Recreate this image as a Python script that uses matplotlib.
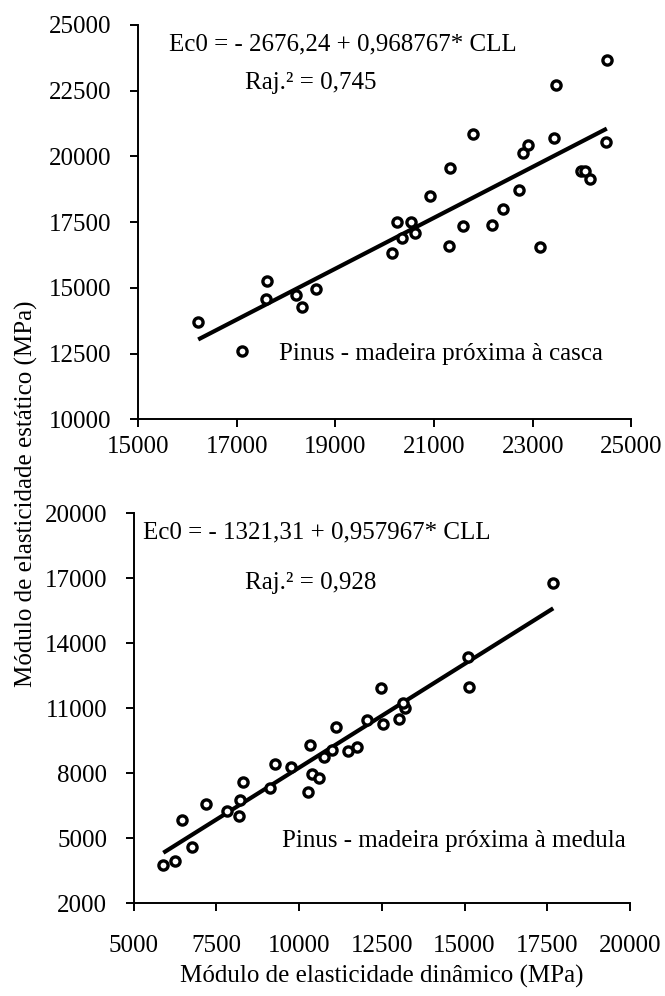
import matplotlib
matplotlib.use("Agg")
import matplotlib.pyplot as plt
import numpy as np

plt.rcParams['font.family'] = ['Liberation Serif', 'DejaVu Serif']

# Top panel: Pinus - madeira próxima à casca
x_casca = [16220, 17100, 17610, 17590, 18200, 18320, 18610, 20140, 20240, 20340,
           20530, 20610, 20920, 21310, 21590, 22170, 22400, 21780, 21320, 22730,
           22810, 22900, 24500, 23480, 23430, 24480, 23970, 24060, 24160, 23150]
y_casca = [13700, 12600, 15250, 14580, 14730, 14280, 14940, 16310, 17500, 16880,
           17500, 17080, 18510, 16590, 17350, 17390, 18000, 20850, 19550, 18720,
           20120, 20430, 23670, 22720, 20690, 20540, 19460, 19460, 19140, 16560]
a_casca, b_casca = -2676.24, 0.968767
eq_casca = "Ec0 = - 2676,24 + 0,968767* CLL"
r2_casca = "Raj.² = 0,745"
lab_casca = "Pinus - madeira próxima à casca"
xticks_top = [15000, 17000, 19000, 21000, 23000, 25000]
yticks_top = [10000, 12500, 15000, 17500, 20000, 22500, 25000]

# Bottom panel: Pinus - madeira próxima à medula
x_medula = [5900, 6250, 6470, 6760, 7190, 7820, 8190, 8220, 8320, 9120,
            9280, 9760, 10280, 10330, 10380, 10610, 10760, 11010, 11110, 11490,
            11760, 12060, 12480, 12550, 13030, 13200, 13150, 15120, 15140, 17680]
y_medula = [3770, 3970, 5840, 4610, 6580, 6270, 6040, 6770, 7610, 7330,
            8410, 8300, 7150, 9300, 7950, 7800, 8740, 9070, 10120, 9030,
            9230, 10460, 11920, 10260, 10500, 11030, 11230, 13380, 12000, 16800]
a_medula, b_medula = -1321.31, 0.957967
eq_medula = "Ec0 = - 1321,31 + 0,957967* CLL"
r2_medula = "Raj.² = 0,928"
lab_medula = "Pinus - madeira próxima à medula"
xticks_bot = [5000, 7500, 10000, 12500, 15000, 17500, 20000]
yticks_bot = [2000, 5000, 8000, 11000, 14000, 17000, 20000]

ylabel = "Módulo de elasticidade estático (MPa)"
xlabel = "Módulo de elasticidade dinâmico (MPa)"

FS = 18
fig = plt.figure(figsize=(6.65, 9.96), dpi=100)
ax1 = fig.add_axes([0.2075, 0.579, 0.7421, 0.3959])
ax2 = fig.add_axes([0.2008, 0.0931, 0.7466, 0.3915])


def style(ax, xt, yt, xpad):
    for s in ['top', 'right']:
        ax.spines[s].set_visible(False)
    for s in ['left', 'bottom']:
        ax.spines[s].set_linewidth(1.4)
    ax.set_xticks(xt)
    ax.set_yticks(yt)
    ax.set_xlim(xt[0], xt[-1])
    ax.set_ylim(yt[0], yt[-1])
    ax.tick_params(axis='both', direction='out', length=6, width=1.4,
                   labelsize=FS)
    ax.tick_params(axis='y', pad=13)
    ax.tick_params(axis='x', pad=xpad)


def panel(ax, xs, ys, a, b):
    xs = np.asarray(xs)
    xl = np.array([xs.min(), xs.max()])
    ax.plot(xl, a + b * xl, color='black', lw=3.0, solid_capstyle='butt',
            zorder=2)
    ax.plot(xs, ys, linestyle='none', marker='o', markersize=6.6,
            markerfacecolor='white', markeredgecolor='black',
            markeredgewidth=2.4, zorder=3)


panel(ax1, x_casca, y_casca, a_casca, b_casca)
style(ax1, xticks_top, yticks_top, 6)
ax1.text(0.063, 0.95, eq_casca, transform=ax1.transAxes, fontsize=FS,
         ha='left', va='center')
ax1.text(0.217, 0.852, r2_casca, transform=ax1.transAxes, fontsize=FS,
         ha='left', va='center')
ax1.text(0.285, 0.165, lab_casca, transform=ax1.transAxes, fontsize=FS,
         ha='left', va='center')

panel(ax2, x_medula, y_medula, a_medula, b_medula)
style(ax2, xticks_bot, yticks_bot, 17)
ax2.text(0.02, 0.95, eq_medula, transform=ax2.transAxes, fontsize=FS,
         ha='left', va='center')
ax2.text(0.225, 0.822, r2_medula, transform=ax2.transAxes, fontsize=FS,
         ha='left', va='center')
ax2.text(0.3, 0.16, lab_medula, transform=ax2.transAxes, fontsize=FS,
         ha='left', va='center')

fig.text(0.04, 1 - 494 / 996, ylabel, rotation=90, fontsize=FS,
         ha='center', va='center')
fig.text((133.5 + 630) / 2 / 665, 1 - 976 / 996, xlabel, fontsize=FS,
         ha='center', va='center')

fig.savefig("out.png", dpi=100)
